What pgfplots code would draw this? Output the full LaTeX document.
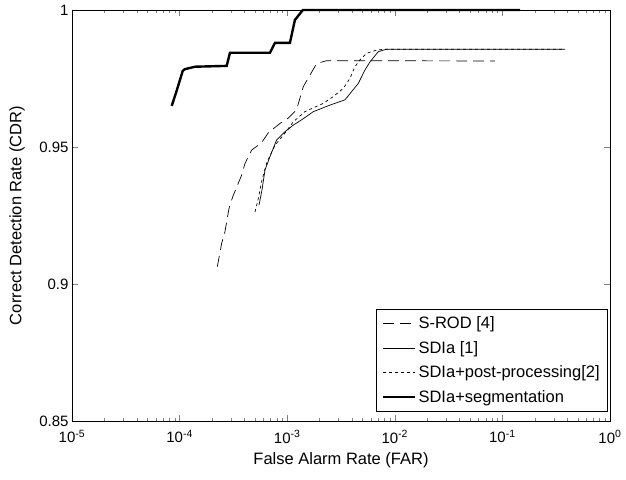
\documentclass[border=0pt]{standalone}
\usepackage{pgfplots}
\pgfplotsset{compat=1.18}
\usepackage{fontspec}
\setmainfont{Liberation Sans}
\begin{document}
\begin{tikzpicture}
\useasboundingbox (-72pt,-58pt) rectangle (554pt,421pt);
\begin{axis}[
  at={(0pt,0pt)}, anchor=south west,
  scale only axis, width=538pt, height=411pt,
  xmode=log, xmin=1e-5, xmax=1,
  ymin=0.85, ymax=1,
  xtick={1e-5,1e-4,1e-3,1e-2,1e-1,1},
  xticklabels={10\textsuperscript{-5},10\textsuperscript{-4},10\textsuperscript{-3},10\textsuperscript{-2},10\textsuperscript{-1},10\textsuperscript{0}},
  ytick={0.85,0.9,0.95,1},
  yticklabels={0.85,0.9,0.95,1},
  /pgf/number format/assume math mode=true,
  tick label style={font=\fontsize{15}{17}\selectfont},
  xticklabel style={yshift=-6pt},
  label style={font=\fontsize{16.5}{18}\selectfont},
  xlabel={False Alarm Rate (FAR)},
  ylabel={Correct Detection Rate (CDR)},
  xlabel style={at={(rel axis cs:0.5,0)}, anchor=center, yshift=-39pt},
  ylabel style={at={(rel axis cs:0,0.5)}, anchor=center, xshift=0pt, yshift=55pt},
  tick align=inside,
  major tick length=6pt, minor tick length=3pt,
  axis line style={line width=0.6pt},
  clip=false,
  legend cell align=left,
  legend style={at={(rel axis cs:0.9963,0.0219)}, anchor=south east,
    font=\fontsize{16.5}{18}\selectfont, draw=black, line width=0.6pt,
    row sep=7pt, inner xsep=6pt, inner ysep=6pt},
  legend image code/.code={\draw[#1] (0pt,0pt) -- (32pt,0pt);},
]
% S-ROD [4]
\addplot[black, line width=0.7pt, dash pattern=on 11pt off 6pt] coordinates {
(2.24e-4,0.9063) (2.46e-4,0.9148) (2.64e-4,0.9191) (2.88e-4,0.9276)
(3.12e-4,0.9319) (3.78e-4,0.9398) (4.06e-4,0.9441) (4.68e-4,0.9489)
(5.79e-4,0.9516) (6.67e-4,0.9552) (8.57e-4,0.9586) (1.02e-3,0.9605)
(1.22e-3,0.9635) (1.41e-3,0.9720) (1.63e-3,0.9763) (1.88e-3,0.9805)
(2.33e-3,0.9815) (0.0853,0.9814)};
\addlegendentry{S-ROD [4]}
% SDIa [1]
\addplot[black, line width=0.7pt] coordinates {
(5.47e-4,0.9288) (5.83e-4,0.9343) (6.22e-4,0.9416) (6.92e-4,0.9465)
(7.98e-4,0.9526) (9.55e-4,0.9556) (1.14e-3,0.9580) (1.36e-3,0.9599)
(1.75e-3,0.9629) (2.50e-3,0.9653) (3.44e-3,0.9672) (3.97e-3,0.9702)
(4.58e-3,0.9732) (5.28e-3,0.9781) (5.89e-3,0.9811) (7.03e-3,0.9848)
(8.41e-3,0.9857) (0.382,0.9857)};
\addlegendentry{SDIa [1]}
% SDIa+post-processing[2]
\addplot[black, line width=0.7pt, dash pattern=on 3pt off 3pt] coordinates {
(5.02e-4,0.9263) (5.36e-4,0.9307) (5.83e-4,0.9380) (6.49e-4,0.9445)
(7.71e-4,0.9507) (9.55e-4,0.9551) (1.14e-3,0.9592) (1.46e-3,0.9629)
(2.16e-3,0.9659) (2.68e-3,0.9684) (3.32e-3,0.9714) (3.84e-3,0.9751)
(4.26e-3,0.9793) (4.75e-3,0.9818) (5.48e-3,0.9842) (6.79e-3,0.9854)
(8.3e-3,0.9857) (0.382,0.9857)};
\addlegendentry{SDIa+post-processing[2]}
% SDIa+segmentation
\addplot[black, line width=2.4pt] coordinates {
(8.45e-5,0.965) (9.3e-5,0.970) (1.07e-4,0.9778) (1.12e-4,0.9784)
(1.39e-4,0.9793) (2.74e-4,0.9796) (2.94e-4,0.9844) (6.92e-4,0.9844)
(7.7e-4,0.988) (1.06e-3,0.988) (1.18e-3,0.9964) (1.40e-3,1.0)
(0.146,1.0)};
\addlegendentry{SDIa+segmentation}
\end{axis}
\end{tikzpicture}
\end{document}
